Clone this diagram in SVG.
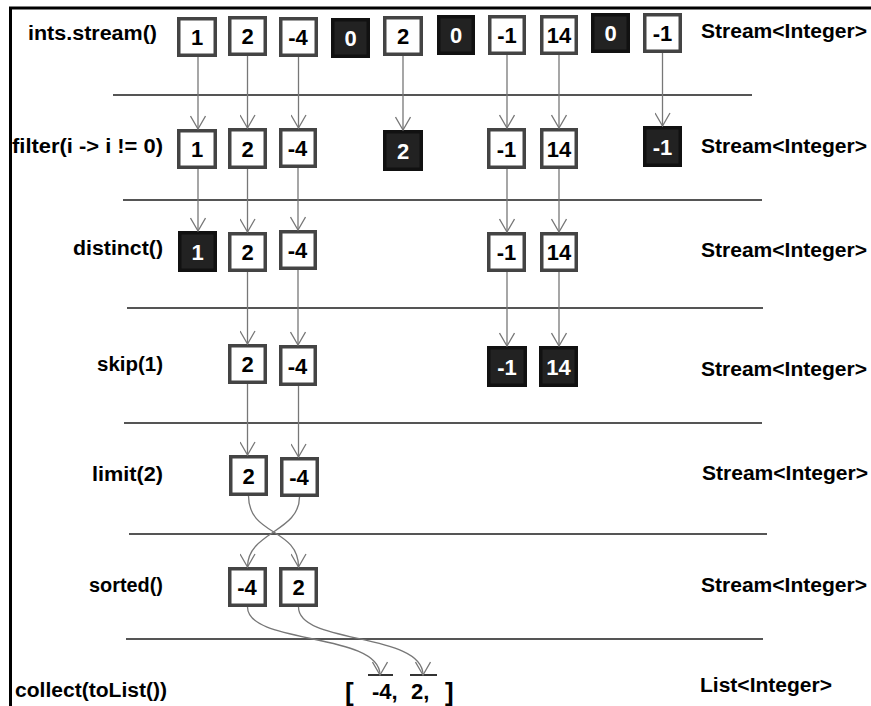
<svg xmlns="http://www.w3.org/2000/svg" width="871" height="706" viewBox="0 0 871 706">
<style>
.lbl{font-family:"Liberation Sans",Arial,sans-serif;font-weight:bold;font-size:20px;fill:#000}
.num{font-family:"Liberation Sans",Arial,sans-serif;font-weight:bold;font-size:22px;text-anchor:middle}
.box rect{fill:#fff;stroke:#444;stroke-width:3.5}
.box text{fill:#000}
.dark rect{fill:#222;stroke:#111;stroke-width:3.5}
.dark text{fill:#fff}
.sep line{stroke:#555;stroke-width:2}
.conn path{fill:none;stroke:#777;stroke-width:1.3;marker-end:url(#ah)}
</style>
<defs>
<marker id="ah" markerWidth="16" markerHeight="16" refX="14" refY="8" orient="auto" markerUnits="userSpaceOnUse">
<path d="M1,0.5 L14,8 L1,15.5" fill="none" stroke="#777" stroke-width="1.3"/>
</marker>
</defs>
<rect width="871" height="706" fill="#fff"/>
<path d="M10.5,706 V8 H871" fill="none" stroke="#000" stroke-width="3"/>

<g id="separators" class="sep">
<line x1="113" y1="95" x2="752" y2="95"/>
<line x1="123" y1="200" x2="762" y2="200"/>
<line x1="127" y1="308" x2="763" y2="308"/>
<line x1="124" y1="423" x2="762" y2="423"/>
<line x1="129" y1="534" x2="767" y2="534"/>
<line x1="126" y1="639" x2="763" y2="639"/>
</g>

<g id="labels">
<text class="lbl" x="28" y="40" textLength="129" lengthAdjust="spacingAndGlyphs">ints.stream()</text>
<text class="lbl" x="12" y="153" textLength="151" lengthAdjust="spacingAndGlyphs">filter(i -&gt; i != 0)</text>
<text class="lbl" x="73" y="255" textLength="90" lengthAdjust="spacingAndGlyphs">distinct()</text>
<text class="lbl" x="97" y="371" textLength="66" lengthAdjust="spacingAndGlyphs">skip(1)</text>
<text class="lbl" x="92" y="481" textLength="71" lengthAdjust="spacingAndGlyphs">limit(2)</text>
<text class="lbl" x="89" y="592" textLength="74" lengthAdjust="spacingAndGlyphs">sorted()</text>
<text class="lbl" x="15" y="697" textLength="152" lengthAdjust="spacingAndGlyphs">collect(toList())</text>
<text class="lbl" x="701" y="38" textLength="166" lengthAdjust="spacingAndGlyphs">Stream&lt;Integer&gt;</text>
<text class="lbl" x="701" y="153" textLength="166" lengthAdjust="spacingAndGlyphs">Stream&lt;Integer&gt;</text>
<text class="lbl" x="701" y="257" textLength="166" lengthAdjust="spacingAndGlyphs">Stream&lt;Integer&gt;</text>
<text class="lbl" x="701" y="376" textLength="166" lengthAdjust="spacingAndGlyphs">Stream&lt;Integer&gt;</text>
<text class="lbl" x="702" y="480" textLength="166" lengthAdjust="spacingAndGlyphs">Stream&lt;Integer&gt;</text>
<text class="lbl" x="701" y="592" textLength="166" lengthAdjust="spacingAndGlyphs">Stream&lt;Integer&gt;</text>
<text class="lbl" x="700" y="692" textLength="132" lengthAdjust="spacingAndGlyphs">List&lt;Integer&gt;</text>
</g>

<g id="row1">
<g id="r1c1" class="box"><rect x="178.75" y="18.75" width="36.5" height="36.5"/><text class="num" x="197" y="45">1</text></g>
<g id="r1c2" class="box"><rect x="229.75" y="17.75" width="35.5" height="36.5"/><text class="num" x="247.5" y="44">2</text></g>
<g id="r1c3" class="box"><rect x="280.75" y="18.75" width="35.5" height="36.5"/><text class="num" x="298" y="45">-4</text></g>
<g id="r1c4" class="dark"><rect x="332.75" y="19.75" width="35.5" height="36.5"/><text class="num" x="350.5" y="46">0</text></g>
<g id="r1c5" class="box"><rect x="384.75" y="17.75" width="36.5" height="36.5"/><text class="num" x="403" y="44">2</text></g>
<g id="r1c6" class="dark"><rect x="438.75" y="16.75" width="34.5" height="36.5"/><text class="num" x="456" y="43">0</text></g>
<g id="r1c7" class="box"><rect x="489.75" y="16.75" width="34.5" height="36.5"/><text class="num" x="507" y="43">-1</text></g>
<g id="r1c8" class="box"><rect x="541.75" y="16.75" width="34.5" height="36.5"/><text class="num" x="559" y="43">14</text></g>
<g id="r1c9" class="dark"><rect x="592.75" y="14.75" width="35.5" height="36.5"/><text class="num" x="610.5" y="41">0</text></g>
<g id="r1c10" class="box"><rect x="644.75" y="14.75" width="35.5" height="36.5"/><text class="num" x="662.5" y="41">-1</text></g>
</g>

<g id="row2">
<g id="r2c1" class="box"><rect x="178.75" y="130.75" width="36.5" height="36.5"/><text class="num" x="197" y="157">1</text></g>
<g id="r2c2" class="box"><rect x="229.75" y="129.75" width="35.5" height="37.5"/><text class="num" x="247.5" y="156.5">2</text></g>
<g id="r2c3" class="box"><rect x="280.75" y="129.75" width="34.5" height="36.5"/><text class="num" x="297.5" y="156">-4</text></g>
<g id="r2c5" class="dark"><rect x="384.75" y="131.75" width="36.5" height="37.5"/><text class="num" x="403" y="158.5">2</text></g>
<g id="r2c7" class="box"><rect x="488.75" y="129.75" width="35.5" height="37.5"/><text class="num" x="506.5" y="156.5">-1</text></g>
<g id="r2c8" class="box"><rect x="541.75" y="129.75" width="34.5" height="37.5"/><text class="num" x="559" y="156.5">14</text></g>
<g id="r2c10" class="dark"><rect x="644.75" y="127.75" width="35.5" height="37.5"/><text class="num" x="662.5" y="154.5">-1</text></g>
</g>

<g id="row3">
<g id="r3c1" class="dark"><rect x="179.75" y="232.75" width="35.5" height="37.5"/><text class="num" x="197.5" y="259.5">1</text></g>
<g id="r3c2" class="box"><rect x="229.75" y="233.75" width="35.5" height="36.5"/><text class="num" x="247.5" y="260">2</text></g>
<g id="r3c3" class="box"><rect x="280.75" y="231.75" width="34.5" height="36.5"/><text class="num" x="297.5" y="258">-4</text></g>
<g id="r3c7" class="box"><rect x="488.75" y="233.75" width="35.5" height="36.5"/><text class="num" x="506.5" y="260">-1</text></g>
<g id="r3c8" class="box"><rect x="541.75" y="233.75" width="34.5" height="36.5"/><text class="num" x="559" y="260">14</text></g>
</g>

<g id="row4">
<g id="r4c2" class="box"><rect x="229.75" y="345.75" width="35.5" height="36.5"/><text class="num" x="247.5" y="372">2</text></g>
<g id="r4c3" class="box"><rect x="280.75" y="346.75" width="34.5" height="37.5"/><text class="num" x="297.5" y="373.5">-4</text></g>
<g id="r4c7" class="dark"><rect x="488.75" y="347.75" width="36.5" height="37.5"/><text class="num" x="507" y="374.5">-1</text></g>
<g id="r4c8" class="dark"><rect x="540.75" y="347.75" width="35.5" height="37.5"/><text class="num" x="558.5" y="374.5">14</text></g>
</g>

<g id="row5">
<g id="r5c2" class="box"><rect x="230.75" y="456.75" width="35.5" height="37.5"/><text class="num" x="248.5" y="483.5">2</text></g>
<g id="r5c3" class="box"><rect x="281.75" y="458.75" width="35.5" height="36.5"/><text class="num" x="299" y="485">-4</text></g>
</g>

<g id="row6">
<g id="r6c2" class="box"><rect x="229.75" y="568.75" width="35.5" height="36.5"/><text class="num" x="247" y="595">-4</text></g>
<g id="r6c3" class="box"><rect x="280.75" y="568.75" width="35.5" height="36.5"/><text class="num" x="298.5" y="595">2</text></g>
</g>

<g id="result">
<line x1="368" y1="675" x2="393" y2="675" stroke="#333" stroke-width="2"/>
<line x1="410" y1="675" x2="437" y2="675" stroke="#333" stroke-width="2"/>
<text class="lbl" x="345" y="701" style="font-size:26px">[</text>
<text class="lbl" x="372" y="699" style="font-size:22px">-4,</text>
<text class="lbl" x="411" y="699" style="font-size:22px">2,</text>
<text class="lbl" x="445" y="701" style="font-size:26px">]</text>
</g>

<g id="connectors" class="conn">
<path d="M198,57 V129"/>
<path d="M247.5,56 V128"/>
<path d="M298.5,57 V128"/>
<path d="M403,56 V130"/>
<path d="M507,55 V128"/>
<path d="M559,55 V128"/>
<path d="M662.5,53 V126"/>
<path d="M198,169 V231"/>
<path d="M247.5,169 V232"/>
<path d="M298,168 V230"/>
<path d="M507,169 V232"/>
<path d="M559,169 V232"/>
<path d="M247.5,272 V344"/>
<path d="M298,270 V345"/>
<path d="M507,272 V346"/>
<path d="M559,272 V346"/>
<path d="M247.5,384 V455"/>
<path d="M298.5,386 V457"/>
<path d="M248.5,496 C248.5,536 298.5,528 298.5,567"/>
<path d="M299.5,497 C299.5,532 247.5,532 247.5,567"/>
<path d="M247.5,607 C247.5,645 380,632 380,675"/>
<path d="M298.5,607 C298.5,645 423,632 423,675"/>
</g>
</svg>
